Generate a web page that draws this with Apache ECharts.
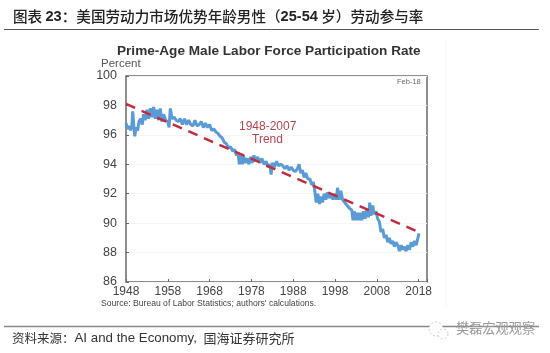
<!DOCTYPE html>
<html>
<head>
    <meta charset="utf-8" />
    <title>Prime-Age Male Labor Force Participation Rate</title>
    <script src="https://cdn.jsdelivr.net/npm/echarts@6/dist/echarts.min.js"></script>
    <style>
        html, body { margin: 0; padding: 0; background: #fff; }
        #main { width: 550px; height: 353px; }
    </style>
</head>
<body>
    <div id="main"></div>
    <script type="text/javascript">
        const rateYears = [
            1948, 1948.4, 1948.8, 1949.1, 1949.4, 1949.6, 1949.9, 1950.1, 1950.4, 1950.8, 1951.1, 1951.5, 1951.9,
            1952.2, 1952.6, 1953, 1953.4, 1953.8, 1954.2, 1954.6, 1955, 1955.4, 1955.8, 1956.2, 1956.6, 1957, 1957.5,
            1958, 1958.3, 1958.6, 1959, 1959.5, 1960, 1960.5, 1961, 1961.5, 1962, 1962.5, 1963, 1963.5, 1964, 1964.5,
            1965, 1965.5, 1966, 1966.5, 1967, 1967.5, 1968, 1968.5, 1969, 1969.5, 1970, 1970.5, 1971, 1971.5, 1972,
            1972.5, 1973, 1973.5, 1974, 1974.4, 1974.8, 1975.1, 1975.4, 1975.8, 1976.1, 1976.5, 1977, 1977.4, 1977.8,
            1978.2, 1978.6, 1979, 1979.5, 1980, 1980.5, 1981, 1981.5, 1982, 1982.4, 1982.7, 1983, 1983.5, 1984, 1984.5,
            1985, 1985.5, 1986, 1986.5, 1987, 1987.5, 1988, 1988.5, 1989, 1989.4, 1989.8, 1990.2, 1990.6, 1991, 1991.5,
            1992, 1992.4, 1992.8, 1993.1, 1993.5, 1993.9, 1994.3, 1994.7, 1995, 1995.4, 1995.8, 1996.2, 1996.6, 1997,
            1997.5, 1998, 1998.3, 1998.6, 1999, 1999.4, 1999.8, 2000.2, 2000.6, 2001, 2001.5, 2002, 2002.3, 2002.6,
            2003, 2003.3, 2003.7, 2004, 2004.4, 2004.8, 2005.2, 2005.6, 2006, 2006.3, 2006.6, 2007, 2007.4, 2007.8,
            2008.2, 2008.6, 2009, 2009.4, 2009.8, 2010.2, 2010.6, 2011, 2011.4, 2011.8, 2012.2, 2012.6, 2013, 2013.4,
            2013.8, 2014.2, 2014.6, 2015, 2015.4, 2015.8, 2016.2, 2016.6, 2017, 2017.4, 2017.8, 2018.1
        ];
        const rateValues = [
            96.8, 96.4, 96.6, 96.3, 96.6, 97.6, 96.5, 95.9, 96.5, 96.3, 96.9, 97.1, 96.7,
            97.4, 97.0, 97.7, 97.1, 97.8, 97.2, 97.9, 97.1, 97.7, 97.0, 97.8, 96.9, 97.4, 97.0,
            96.9, 96.5, 97.8, 97.1, 97.2, 97.0, 96.9, 97.1, 96.7, 97.1, 96.7, 97.0, 96.7, 96.6, 97.0,
            96.6, 96.7, 96.9, 96.5, 96.8, 96.5, 96.7, 96.3, 96.4, 96.2, 96.1, 95.9, 95.8, 95.5, 95.4,
            95.1, 95.2, 94.9, 95.0, 94.6, 94.8, 94.0, 94.6, 94.0, 94.6, 94.1, 94.4, 94.0, 94.5,
            94.1, 94.6, 94.2, 94.5, 94.1, 94.4, 94.0, 94.2, 93.8, 94.0, 93.3, 94.1, 93.8, 94.2, 93.9,
            94.0, 93.9, 93.7, 93.9, 93.6, 93.8, 93.6, 93.5, 93.7, 94.0, 93.4, 93.6, 93.1, 93.4, 93.0,
            93.0, 92.6, 92.8, 92.3, 91.4, 92.0, 91.3, 91.8, 91.4, 92.0, 91.6, 92.1, 91.7, 92.0,
            91.6, 92.0, 91.6, 92.4, 91.6, 92.2, 91.6, 91.7, 91.3, 91.4, 91.0, 90.9, 90.2, 90.8,
            90.2, 90.7, 90.2, 90.7, 90.2, 90.8, 90.3, 90.9, 90.4, 91.4, 90.5, 91.2, 90.6, 90.8,
            90.3, 90.1, 89.4, 89.6, 89.0, 89.2, 88.7, 89.0, 88.6, 88.8, 88.4, 88.7, 88.5, 88.1,
            88.5, 88.2, 88.4, 88.1, 88.5, 88.2, 88.7, 88.4, 88.8, 88.5, 88.6, 89.3
        ];
        const trendYears = [1948, 2018];
        const trendValues = [98.1, 89.4];
        const yTicks = [86, 88, 90, 92, 94, 96, 98, 100];
        const xTicks = [1948, 1958, 1968, 1978, 1988, 1998, 2008, 2018];

        const cjk = '"Noto Sans CJK SC", sans-serif';
        const latin = '"Liberation Sans", Arial, sans-serif';

        var chart = echarts.init(document.getElementById('main'));

        var option = {
            animation: false,
            backgroundColor: '#fff',
            grid: { left: 126, right: 123, top: 76, bottom: 71, show: true, borderColor: '#6a6a6a', borderWidth: 1.5, backgroundColor: 'transparent' },
            xAxis: {
                type: 'value',
                min: 1948,
                max: 2020,
                interval: 10,
                axisLine: { show: false },
                axisTick: { show: true, inside: true, length: 3, lineStyle: { color: '#666' } },
                splitLine: { show: false },
                axisLabel: {
                    color: '#444',
                    fontFamily: latin,
                    fontSize: 12,
                    margin: 4,
                    hideOverlap: false,
                    showMinLabel: true,
                    formatter: v => xTicks.includes(v) ? String(v) : ''
                }
            },
            yAxis: {
                type: 'value',
                min: 86,
                max: 100,
                interval: 2,
                axisLine: { show: false },
                axisTick: { show: true, inside: true, length: 3, lineStyle: { color: '#666' } },
                splitLine: { show: true, lineStyle: { color: '#f5f5f5', width: 1 } },
                axisLabel: {
                    color: '#444',
                    fontFamily: latin,
                    fontSize: 12.5,
                    margin: 9,
                    formatter: v => yTicks.includes(v) ? String(v) : ''
                }
            },
            series: [{
                name: 'Rate',
                type: 'line',
                data: rateYears.map((y, i) => [y, rateValues[i]]),
                showSymbol: false,
                lineStyle: { color: '#5b9bd5', width: 3 },
                z: 2
            }, {
                name: '1948-2007 Trend',
                type: 'line',
                data: trendYears.map((y, i) => [y, trendValues[i]]),
                showSymbol: false,
                lineStyle: { color: '#c32a3c', width: 2.5, type: [10, 7] },
                z: 3
            }],
            graphic: [
                {
                    type: 'text', left: 13, top: 9, z: 10,
                    style: {
                        text: '{a|图表 }{b|23}{a|：美国劳动力市场优势年龄男性（}{b|25-54} {a|岁）劳动参与率}',
                        rich: {
                            a: { fontFamily: cjk, fontSize: 14.6, fontWeight: 500, fill: '#222' },
                            b: { fontFamily: latin, fontSize: 14.6, fontWeight: 'bold', fill: '#222' }
                        }
                    }
                },
                { type: 'line', z: 10, shape: { x1: 4, y1: 29.5, x2: 539, y2: 29.5 }, style: { stroke: '#555', lineWidth: 1 } },
                { type: 'text', z: 10, left: 117, top: 44, style: { text: 'Prime-Age Male Labor Force Participation Rate', fill: '#333', font: 'bold 13.6px ' + latin } },
                { type: 'text', z: 10, left: 101, top: 58, style: { text: 'Percent', fill: '#555', font: '11.5px ' + latin } },
                { type: 'text', z: 10, left: 397, top: 78, style: { text: 'Feb-18', fill: '#666', font: '7.5px ' + latin } },
                { type: 'text', z: 10, left: 239, top: 121, style: { text: '1948-2007', fill: '#b84450', font: '12px ' + latin } },
                { type: 'text', z: 10, left: 252, top: 134, style: { text: 'Trend', fill: '#b84450', font: '12px ' + latin } },
                { type: 'text', z: 10, left: 101, top: 299, style: { text: "Source: Bureau of Labor Statistics; authors' calculations.", fill: '#444', font: '8.6px ' + latin } },
                { type: 'line', z: 1, shape: { x1: 446, y1: 40, x2: 446, y2: 308 }, style: { stroke: '#f6f6f6', lineWidth: 1 } },
                { type: 'line', z: 10, shape: { x1: 4, y1: 326.5, x2: 539, y2: 326.5 }, style: { stroke: '#888', lineWidth: 1.5 } },
                {
                    type: 'text', left: 12, top: 332, z: 10,
                    style: {
                        text: '{a|资料来源：}{b|AI and the Economy,}  {c|国海证券研究所}',
                        rich: {
                            a: { fontFamily: cjk, fontSize: 12.5, fill: '#333' },
                            b: { fontFamily: latin, fontSize: 13.3, fill: '#333' },
                            c: { fontFamily: cjk, fontSize: 13, fill: '#333' }
                        }
                    }
                },
                { type: 'circle', z: 10, shape: { cx: 436, cy: 329, r: 7 }, style: { fill: '#fff', stroke: '#ccc', lineWidth: 1, lineDash: [2, 2] } },
                { type: 'circle', z: 10, shape: { cx: 443, cy: 334, r: 5 }, style: { fill: '#fff', stroke: '#ccc', lineWidth: 1, lineDash: [2, 2] } },
                { type: 'text', z: 10, left: 456, top: 321, style: { text: '樊磊宏观观察', fill: '#999', font: '13.2px ' + cjk } }
            ]
        };

        chart.setOption(option);
    </script>
</body>
</html>
